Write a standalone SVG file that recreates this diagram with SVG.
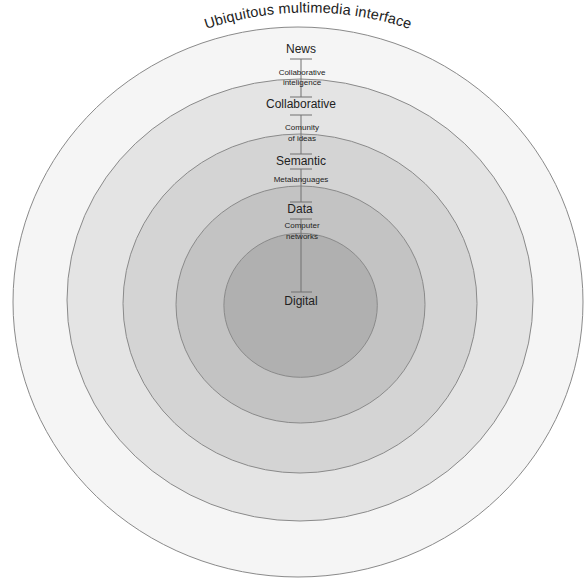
<svg xmlns="http://www.w3.org/2000/svg" width="584" height="579" viewBox="0 0 584 579">
<style>
.ring{stroke:#8a8a8a;stroke-width:1}
.big{font-family:"Liberation Sans",Arial,sans-serif;font-size:12px;fill:#222222;text-anchor:middle}
.small{font-family:"Liberation Sans",Arial,sans-serif;font-size:8px;fill:#222222;text-anchor:middle}
.title{font-family:"Liberation Sans",Arial,sans-serif;font-size:14.5px;fill:#222222}
.conn{stroke:#707070;stroke-width:1;fill:none}
</style>
<defs>
<path id="arc" d="M 190 35 A 320 320 0 0 1 426 35"/>
</defs>
<rect width="584" height="579" fill="#ffffff"/>
<g id="ring-ubiquitous"><ellipse class="ring" cx="298" cy="302" rx="285" ry="275" fill="#f5f5f5"/></g>
<g id="ring-news"><ellipse class="ring" cx="300" cy="300" rx="233" ry="221" fill="#e4e4e4"/></g>
<g id="ring-collaborative"><ellipse class="ring" cx="300" cy="303.5" rx="177" ry="169.5" fill="#d4d4d4"/></g>
<g id="ring-semantic"><ellipse class="ring" cx="300.5" cy="304.5" rx="124.5" ry="118.5" fill="#c3c3c3"/></g>
<g id="ring-digital"><ellipse class="ring" cx="300.6" cy="305.3" rx="76.7" ry="72" fill="#b0b0b0"/></g>
<g id="title"><text class="title"><textPath href="#arc" startOffset="50%" text-anchor="middle" textLength="207" lengthAdjust="spacing">Ubiquitous multimedia interface</textPath></text></g>
<g id="connectors">
<line class="conn" x1="301" y1="59" x2="301" y2="97"/>
<line class="conn" x1="301" y1="115" x2="301" y2="154"/>
<line class="conn" x1="301" y1="169" x2="301" y2="202"/>
<line class="conn" x1="301" y1="219" x2="301" y2="292"/>
<line class="conn" x1="290" y1="59" x2="312" y2="59"/>
<line class="conn" x1="290" y1="97" x2="312" y2="97"/>
<line class="conn" x1="290" y1="115" x2="312" y2="115"/>
<line class="conn" x1="290" y1="154" x2="312" y2="154"/>
<line class="conn" x1="290" y1="169" x2="312" y2="169"/>
<line class="conn" x1="290" y1="202" x2="312" y2="202"/>
<line class="conn" x1="290" y1="219" x2="312" y2="219"/>
<line class="conn" x1="291" y1="292" x2="312" y2="292"/>
</g>
<g id="news"><text class="big" x="301" y="53">News</text></g>
<g id="collab-intel"><text class="small" x="302" y="75">Collaborative</text><text class="small" x="302" y="85">inteligence</text></g>
<g id="collaborative"><text class="big" x="301" y="108">Collaborative</text></g>
<g id="community"><text class="small" x="302" y="130">Comunity</text><text class="small" x="302" y="141">of ideas</text></g>
<g id="semantic"><text class="big" x="301" y="165">Semantic</text></g>
<g id="metalanguages"><text class="small" x="301" y="182">Metalanguages</text></g>
<g id="data"><text class="big" x="300" y="213">Data</text></g>
<g id="networks"><text class="small" x="302" y="228">Computer</text><text class="small" x="302" y="239">networks</text></g>
<g id="digital"><text class="big" x="301" y="305">Digital</text></g>
</svg>
